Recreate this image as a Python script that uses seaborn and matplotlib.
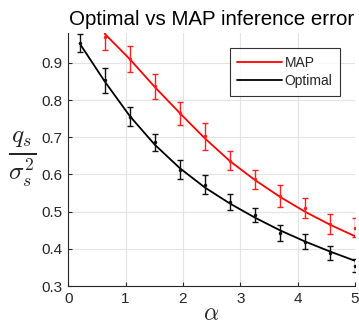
import numpy as np
import pandas as pd
import matplotlib
matplotlib.use('Agg')
import matplotlib.pyplot as plt
import seaborn as sns

# sample positions (alpha)
alpha = [0.2, 0.636, 1.073, 1.509, 1.945, 2.382, 2.818, 3.255, 3.691, 4.127, 4.564, 5.0]

# measured errors with std bars
opt_mean = [0.954, 0.853, 0.755, 0.686, 0.613, 0.573, 0.526, 0.491, 0.443, 0.419, 0.389, 0.355]
opt_err = [0.024, 0.033, 0.025, 0.024, 0.025, 0.025, 0.021, 0.019, 0.021, 0.020, 0.020, 0.018]
map_alpha = alpha[1:]
map_mean = [0.968, 0.910, 0.837, 0.764, 0.703, 0.637, 0.587, 0.542, 0.509, 0.467, 0.457]
map_err = [0.033, 0.036, 0.034, 0.030, 0.036, 0.025, 0.025, 0.030, 0.027, 0.027, 0.025]

# fitted curves
opt_fit = [0.952, 0.850, 0.757, 0.680, 0.617, 0.565, 0.522, 0.484, 0.450, 0.420, 0.393, 0.368]
map_fit = [0.978, 0.910, 0.835, 0.765, 0.697, 0.636, 0.585, 0.540, 0.500, 0.465, 0.434]

sns.set_style("whitegrid")
plt.rcParams['font.family'] = ['Liberation Sans', 'DejaVu Sans']
plt.rcParams['mathtext.fontset'] = 'cm'

fig = plt.figure(figsize=(3.59, 3.27), dpi=100)
ax = fig.add_axes([0.19, 0.125, 0.799, 0.774])

fit_df = pd.concat([
    pd.DataFrame({'alpha': map_alpha, 'val': map_fit, 'kind': 'MAP'}),
    pd.DataFrame({'alpha': alpha, 'val': opt_fit, 'kind': 'Optimal'}),
])
sns.lineplot(data=fit_df, x='alpha', y='val', hue='kind',
             palette={'MAP': '#ff0000', 'Optimal': '#000000'},
             linewidth=1.3, ax=ax)

ax.errorbar(map_alpha, map_mean, yerr=map_err, fmt='.', color='#ff2020',
            markersize=3, elinewidth=1, capsize=2.5, capthick=1)
ax.errorbar(alpha, opt_mean, yerr=opt_err, fmt='.', color='#111111',
            markersize=3, elinewidth=1, capsize=2.5, capthick=1)

ax.set_xlim(0, 5)
ax.set_ylim(0.3, 0.98)
ax.set_xticks([0, 1, 2, 3, 4, 5])
ax.set_yticks([0.3, 0.4, 0.5, 0.6, 0.7, 0.8, 0.9])
ax.tick_params(labelsize=11, colors='#262626', direction='in', length=3,
               bottom=True, left=True, pad=4)
ax.grid(color='#e3e3e3', linewidth=0.8)

for s in ['top', 'right']:
    ax.spines[s].set_visible(False)
for s in ['left', 'bottom']:
    ax.spines[s].set_color('#262626')
    ax.spines[s].set_linewidth(0.8)

ax.set_title('Optimal vs MAP inference error', fontsize=14.8, color='#000000', pad=6)
ax.set_xlabel(r'$\alpha$', fontsize=17, labelpad=-2)
ax.set_ylabel(r'$\frac{q_s}{\sigma_s^2}$', fontsize=26, rotation=0, labelpad=14, va='center')

leg = ax.legend(title=None, loc='upper right', bbox_to_anchor=(0.948, 0.94),
                fontsize=10, frameon=True, fancybox=False, handlelength=3.2,
                handletextpad=0.2, borderpad=0.55, labelspacing=0.3,
                borderaxespad=0)
leg.get_frame().set_edgecolor('#000000')
leg.get_frame().set_linewidth(0.8)

fig.savefig('out.png', dpi=100)
